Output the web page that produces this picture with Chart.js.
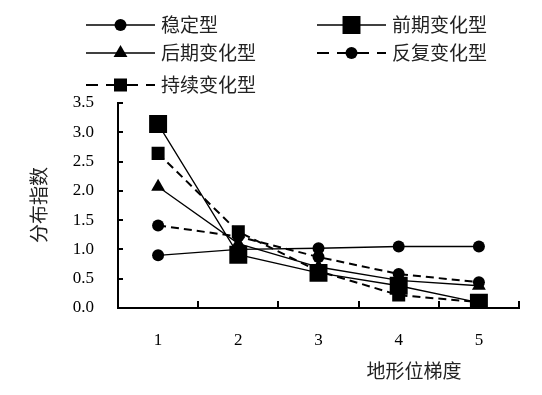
<!DOCTYPE html>
<html>
<head>
<meta charset="utf-8">
<script src="https://cdn.jsdelivr.net/npm/chart.js@4/dist/chart.umd.min.js"></script>
<style>
html,body{margin:0;padding:0;background:#fff;}
#wrap{width:542px;height:395px;position:relative;}
</style>
</head>
<body>
<div id="wrap"><canvas id="c" width="542" height="395"></canvas></div>
<script>
const categories = ['1', '2', '3', '4', '5'];
const seriesNames = ['稳定型', '前期变化型', '后期变化型', '反复变化型', '持续变化型'];
const stable   = [0.90, 1.00, 1.02, 1.05, 1.05];
const early    = [3.14, 0.91, 0.60, 0.38, 0.09];
const late     = [2.07, 1.10, 0.70, 0.47, 0.38];
const repeated = [1.41, 1.22, 0.87, 0.58, 0.44];
const continued= [2.64, 1.30, 0.63, 0.22, 0.10];
const yTicks = [0, 0.5, 1.0, 1.5, 2.0, 2.5, 3.0, 3.5];
const xTitle = '地形位梯度';
const yTitle = '分布指数';

const CJK = '"Noto Sans CJK SC", "Noto Sans", sans-serif';
const SERIF = '"Liberation Serif", "DejaVu Serif", serif';

function ds(label, data, style, radius, dashed){
  return {
    label, data,
    borderColor:'#000', backgroundColor:'#000',
    pointBackgroundColor:'#000', pointBorderColor:'#000',
    borderWidth: dashed ? 2 : 1.3,
    borderDash: dashed ? [8,5] : [],
    pointStyle: style, pointRadius: radius, pointHoverRadius: radius,
    pointBorderWidth: 0, tension: 0, fill:false
  };
}

const datasets = [
  ds(seriesNames[0], stable, 'circle', 6, false),
  ds(seriesNames[1], early, 'rect', 12.7, false),
  ds(seriesNames[2], late, 'triangle', 8, false),
  ds(seriesNames[3], repeated, 'circle', 6, true),
  ds(seriesNames[4], continued, 'rect', 9.2, true)
];

function marker(ctx, style, r, x, y){
  ctx.save();
  ctx.fillStyle = '#000';
  ctx.beginPath();
  if (style === 'circle') {
    ctx.arc(x, y, r, 0, Math.PI*2);
  } else if (style === 'rect') {
    const s = Math.SQRT1_2 * r;
    ctx.rect(x - s, y - s, 2*s, 2*s);
  } else if (style === 'triangle') {
    let a = 0;
    ctx.moveTo(x + Math.sin(a)*r, y - Math.cos(a)*r);
    a += 2*Math.PI/3;
    ctx.lineTo(x + Math.sin(a)*r, y - Math.cos(a)*r);
    a += 2*Math.PI/3;
    ctx.lineTo(x + Math.sin(a)*r, y - Math.cos(a)*r);
    ctx.closePath();
  }
  ctx.fill();
  ctx.restore();
}

const decor = {
  id:'decor',
  afterDraw(chart){
    const ctx = chart.ctx;
    const xs = chart.scales.x, ys = chart.scales.y;
    const area = chart.chartArea;
    ctx.save();
    ctx.strokeStyle = '#000';
    ctx.lineWidth = 2;
    // inward x ticks at category boundaries
    const n = categories.length;
    const step = (xs.getPixelForValue(1) - xs.getPixelForValue(0));
    for (let i = 0; i <= n; i++) {
      const px = Math.round(xs.getPixelForValue(0) - step/2 + i*step);
      ctx.beginPath();
      ctx.moveTo(px, area.bottom);
      ctx.lineTo(px, area.bottom - 7);
      ctx.stroke();
    }
    // inward y ticks
    yTicks.forEach(v => {
      const py = Math.round(ys.getPixelForValue(v));
      ctx.beginPath();
      ctx.moveTo(area.left, py);
      ctx.lineTo(area.left + 5, py);
      ctx.stroke();
    });
    // axis titles
    ctx.fillStyle = '#222';
    ctx.font = '19px ' + CJK;
    ctx.textAlign = 'center';
    ctx.textBaseline = 'middle';
    ctx.fillText(xTitle, 414, 371);
    ctx.save();
    ctx.translate(39, 205);
    ctx.rotate(-Math.PI/2);
    ctx.fillText(yTitle, 0, 0);
    ctx.restore();
    // legend
    const pos = [
      {x1:86, x2:155, y:25, tx:161},
      {x1:317, x2:386, y:25, tx:392},
      {x1:86, x2:155, y:53, tx:161},
      {x1:317, x2:386, y:53, tx:392},
      {x1:86, x2:155, y:85, tx:161}
    ];
    chart.data.datasets.forEach((d, i) => {
      const p = pos[i];
      ctx.save();
      ctx.strokeStyle = '#000';
      ctx.lineWidth = d.borderDash.length ? 2 : 1.5;
      ctx.setLineDash(d.borderDash.length ? [12,8] : []);
      ctx.beginPath();
      ctx.moveTo(p.x1, p.y);
      ctx.lineTo(p.x2, p.y);
      ctx.stroke();
      ctx.restore();
      marker(ctx, d.pointStyle, d.pointRadius, (p.x1+p.x2)/2, p.y);
      ctx.fillStyle = '#222';
      ctx.font = '19px ' + CJK;
      ctx.textAlign = 'left';
      ctx.textBaseline = 'middle';
      ctx.fillText(d.label, p.tx, p.y);
    });
    ctx.restore();
  }
};

new Chart(document.getElementById('c'), {
  type:'line',
  data:{ labels: categories, datasets },
  options:{
    responsive:false,
    animation:false,
    events:[],
    layout:{ padding:{ top:103, right:23, left:0, bottom:0 } },
    plugins:{ legend:{display:false}, tooltip:{enabled:false}, title:{display:false} },
    scales:{
      x:{
        type:'category',
        offset:true,
        grid:{ display:true, drawOnChartArea:false, drawTicks:false, offset:true },
        border:{ display:true, color:'#000', width:2 },
        ticks:{ color:'#000', font:{ family:SERIF, size:17 }, padding:22, maxRotation:0 },
        afterFit(s){ s.height = 87; }
      },
      y:{
        min:0, max:3.5,
        afterBuildTicks(s){ s.ticks = yTicks.map(v => ({value:v})); },
        grid:{ display:true, drawOnChartArea:false, drawTicks:false },
        border:{ display:true, color:'#000', width:2 },
        ticks:{ color:'#000', font:{ family:SERIF, size:17 }, padding:24,
          callback:(v) => Number(v).toFixed(1) },
        afterFit(s){ s.width = 118; }
      }
    }
  },
  plugins:[decor]
});
</script>
</body>
</html>
